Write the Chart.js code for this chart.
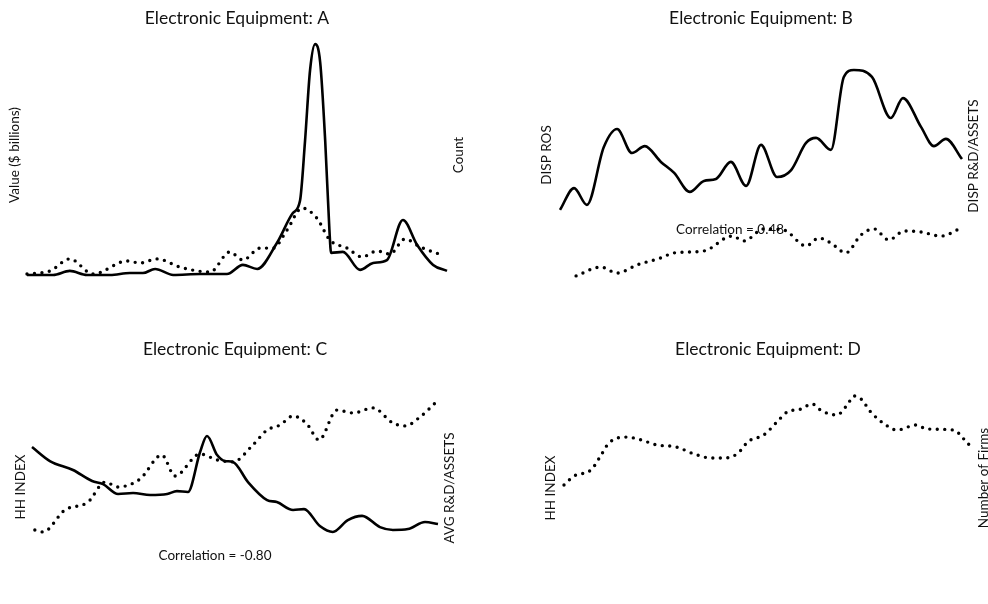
<!DOCTYPE html>
<html>
<head>
<meta charset="utf-8">
<script src="https://cdn.jsdelivr.net/npm/chart.js@4.4.0/dist/chart.umd.min.js"></script>
<style>
    html, body { margin: 0; padding: 0; background: #fff; overflow: hidden; }
    #wrap { position: relative; width: 988px; height: 604px; }
    #wrap canvas { position: absolute; }
</style>
</head>
<body>
<div id="wrap">
    <canvas id="chart-a" width="494" height="302" style="left:0;top:0"></canvas>
    <canvas id="chart-b" width="494" height="302" style="left:494px;top:0"></canvas>
    <canvas id="chart-c" width="494" height="302" style="left:0;top:302px"></canvas>
    <canvas id="chart-d" width="494" height="302" style="left:494px;top:302px"></canvas>
</div>
<script>
// time axis runs 0..100 (share of the sample period), values are relative units 0..100

// A: Value ($ billions) vs Count
const aValueT = [0, 6.2, 10.2, 14.3, 19.8, 24.5, 27.6, 30.5, 34.8, 41.2, 47.6, 51.4, 54.8, 59.5, 63.3, 65, 66.2, 67.4, 68.6, 69.8, 71, 72, 72.4, 75.2, 79.3, 82.4, 85.7, 89.5, 92.9, 96.7, 100];
const aValue = [2.1, 2.1, 3.8, 2.1, 2.1, 2.9, 2.9, 4.6, 2.1, 2.5, 2.5, 6.3, 4.6, 15.4, 27.9, 33, 58, 87.5, 98.3, 90.8, 58, 21, 11.3, 11.7, 4.2, 7.1, 8.3, 25, 14.6, 6.3, 3.8];
const aCountT = [0, 5.5, 10.2, 15.7, 23.8, 26.9, 31, 36.4, 43.6, 48.3, 51.4, 55.5, 58.6, 61.9, 65.5, 69, 72.1, 76.2, 79.8, 83.3, 86.4, 90, 93.6, 98.8];
const aCount = [2.5, 3.8, 8.8, 2.5, 7.9, 7.1, 8.8, 5.4, 3.3, 11.7, 8.3, 13.3, 13.3, 20.8, 30, 25.8, 16.7, 13.3, 9.6, 12.1, 10.8, 17.1, 13.8, 10.4];

// B: DISP ROS vs DISP R&D/ASSETS
const bRosT = [0, 3.5, 6.7, 10.9, 14.2, 17.9, 21.1, 25.1, 28.4, 32.3, 35.8, 38.8, 42.5, 46.3, 50, 54, 57.5, 61.2, 63.7, 67.4, 70.6, 73.1, 77.6, 82.3, 85.3, 89.8, 93, 96, 100];
const bRos = [29.2, 38.3, 31.3, 55.4, 62.9, 52.9, 55.8, 49.2, 44.6, 36.7, 41.3, 42.1, 49.2, 39.2, 56.3, 42.9, 45.8, 57.1, 59.2, 54.2, 84.6, 87.5, 84.6, 67.5, 75.8, 63.8, 55.8, 58.8, 50.4];
const bRdT = [4, 10.2, 14.2, 19.2, 25.1, 28.4, 35.8, 42.8, 45.8, 50.7, 55.7, 61.2, 64.4, 67.4, 71.1, 74.9, 78.1, 81.8, 85.6, 89.8, 94.8, 99.8];
const bRd = [1.7, 5.4, 2.9, 6.3, 9.2, 11.3, 12.1, 18.3, 16.3, 21.3, 20.8, 14.2, 17.5, 15.4, 11.3, 18.8, 21.3, 16.7, 20.4, 20, 18.3, 21.7];

// C: HH INDEX vs AVG R&D/ASSETS
const cHhT = [0, 4.4, 10.1, 14.8, 17.5, 21.2, 24.9, 29.1, 33.3, 35.7, 38.4, 41.4, 43.1, 45.6, 47.5, 49.5, 53.2, 57.9, 60.3, 64.3, 67, 70.9, 74.1, 77.8, 81.3, 85.7, 88.9, 92.6, 96.8, 100];
const cHh = [63.9, 56.1, 51.1, 45, 43.3, 37.8, 38.3, 37.2, 37.8, 39.4, 38.9, 61.1, 70, 59.4, 56.1, 55.6, 44.4, 34.4, 33.3, 28.9, 29.4, 20, 16.7, 23.3, 25.6, 19.4, 17.8, 18.3, 22.2, 21.1];
const cRdT = [0.7, 2.7, 8.1, 13.8, 18, 21.2, 26.6, 32, 35.2, 41.4, 45.6, 49.5, 54.4, 57.9, 61.1, 64.3, 67.7, 70.7, 75.1, 79.1, 84, 88.9, 91.9, 95.6, 99.8];
const cRd = [17.8, 16.7, 28.9, 33.3, 44.4, 41.7, 46.1, 59.4, 47.8, 60, 56.7, 55.6, 65, 73.3, 76.1, 81.1, 76.7, 67.8, 84.4, 82.8, 85.6, 77.2, 75.6, 80.6, 89.4];

// D: HH INDEX vs Number of Firms (only the dotted series is visible)
const dFirmsT = [0, 2.5, 6.6, 9.1, 11, 15.4, 18.9, 22.8, 27.5, 31.9, 36, 39.2, 42.4, 45.3, 49, 52.2, 54.7, 58.1, 60.8, 63.2, 66.9, 69.4, 71.1, 72.8, 75.2, 78.9, 81.6, 86.3, 89, 95.6, 98, 100];
const dFirms = [42.8, 47.8, 51.1, 59.4, 66.1, 69.4, 67.8, 65, 63.9, 60, 57.8, 57.8, 60, 67.2, 70.6, 77.8, 83.3, 85, 87.8, 83.9, 81.7, 87.2, 92.2, 90.6, 83.3, 76.1, 73.3, 76.1, 73.9, 73.3, 68.3, 63.3];

const FONT = 'Lato, "Open Sans", sans-serif';

function pairs(ts, vs) {
    return ts.map((t, i) => ({ x: t, y: vs[i] }));
}

function solid(ts, vs) {
    return {
        data: pairs(ts, vs),
        borderColor: '#000',
        borderWidth: 2.6,
        pointRadius: 0,
        cubicInterpolationMode: 'monotone',
        yAxisID: 'y',
        clip: false
    };
}

function dotted(ts, vs) {
    return {
        data: pairs(ts, vs),
        borderColor: '#000',
        borderWidth: 3.4,
        borderDash: [0, 7.5],
        borderCapStyle: 'round',
        pointRadius: 0,
        cubicInterpolationMode: 'monotone',
        yAxisID: 'y1',
        clip: false
    };
}

// draws the side labels (reading bottom to top) and the correlation note
const panelText = {
    id: 'panelText',
    beforeDatasetsDraw(chart, args, opts) {
        const ctx = chart.ctx;
        ctx.save();
        ctx.fillStyle = '#111';
        ctx.textAlign = 'center';
        ctx.textBaseline = 'middle';
        ctx.font = '13.5px ' + FONT;
        (opts.side || []).forEach(l => {
            ctx.save();
            ctx.translate(l.x, l.y);
            ctx.rotate(-Math.PI / 2);
            ctx.fillText(l.text, 0, 0);
            ctx.restore();
        });
        if (opts.note) {
            ctx.fillText(opts.note.text, opts.note.x, opts.note.y);
        }
        ctx.restore();
    }
};

function makePanel(id, title, datasets, pad, titlePad, textOpts) {
    return new Chart(document.getElementById(id), {
        type: 'line',
        data: { datasets: datasets },
        plugins: [panelText],
        options: {
            responsive: false,
            animation: false,
            devicePixelRatio: 1,
            layout: { padding: pad },
            scales: {
                x: { type: 'linear', min: 0, max: 100, display: false },
                y: { min: 0, max: 100, display: false },
                y1: { min: 0, max: 100, display: false, position: 'right' }
            },
            plugins: {
                legend: { display: false },
                tooltip: { enabled: false },
                title: {
                    display: true,
                    text: title,
                    color: '#111',
                    font: { family: FONT, size: 17.5, weight: 'normal', lineHeight: 1.2 },
                    padding: titlePad
                },
                panelText: textOpts
            }
        }
    });
}

makePanel('chart-a', 'Electronic Equipment: A',
    [solid(aValueT, aValue), dotted(aCountT, aCount)],
    { left: 27, right: 47, top: 0, bottom: 22 },
    { top: 8, bottom: 11 },
    { side: [{ text: 'Value ($ billions)', x: 15, y: 155 }, { text: 'Count', x: 459, y: 155 }] });

makePanel('chart-b', 'Electronic Equipment: B',
    [solid(bRosT, bRos), dotted(bRdT, bRd)],
    { left: 66, right: 26, top: 0, bottom: 22 },
    { top: 8, bottom: 11 },
    {
        side: [{ text: 'DISP ROS', x: 53, y: 155 }, { text: 'DISP R&D/ASSETS', x: 480, y: 156 }],
        note: { text: 'Correlation = 0.48', x: 236, y: 230 }
    });

makePanel('chart-c', 'Electronic Equipment: C',
    [solid(cHhT, cHh), dotted(cRdT, cRd)],
    { left: 32, right: 56, top: 0, bottom: 42 },
    { top: 37, bottom: 22 },
    {
        side: [{ text: 'HH INDEX', x: 21, y: 185 }, { text: 'AVG R&D/ASSETS', x: 450, y: 186 }],
        note: { text: 'Correlation = -0.80', x: 215, y: 254 }
    });

makePanel('chart-d', 'Electronic Equipment: D',
    [dotted(dFirmsT, dFirms)],
    { left: 70, right: 16, top: 0, bottom: 42 },
    { top: 37, bottom: 22 },
    { side: [{ text: 'HH INDEX', x: 57, y: 186 }, { text: 'Number of Firms', x: 490, y: 176 }] });
</script>
</body>
</html>
